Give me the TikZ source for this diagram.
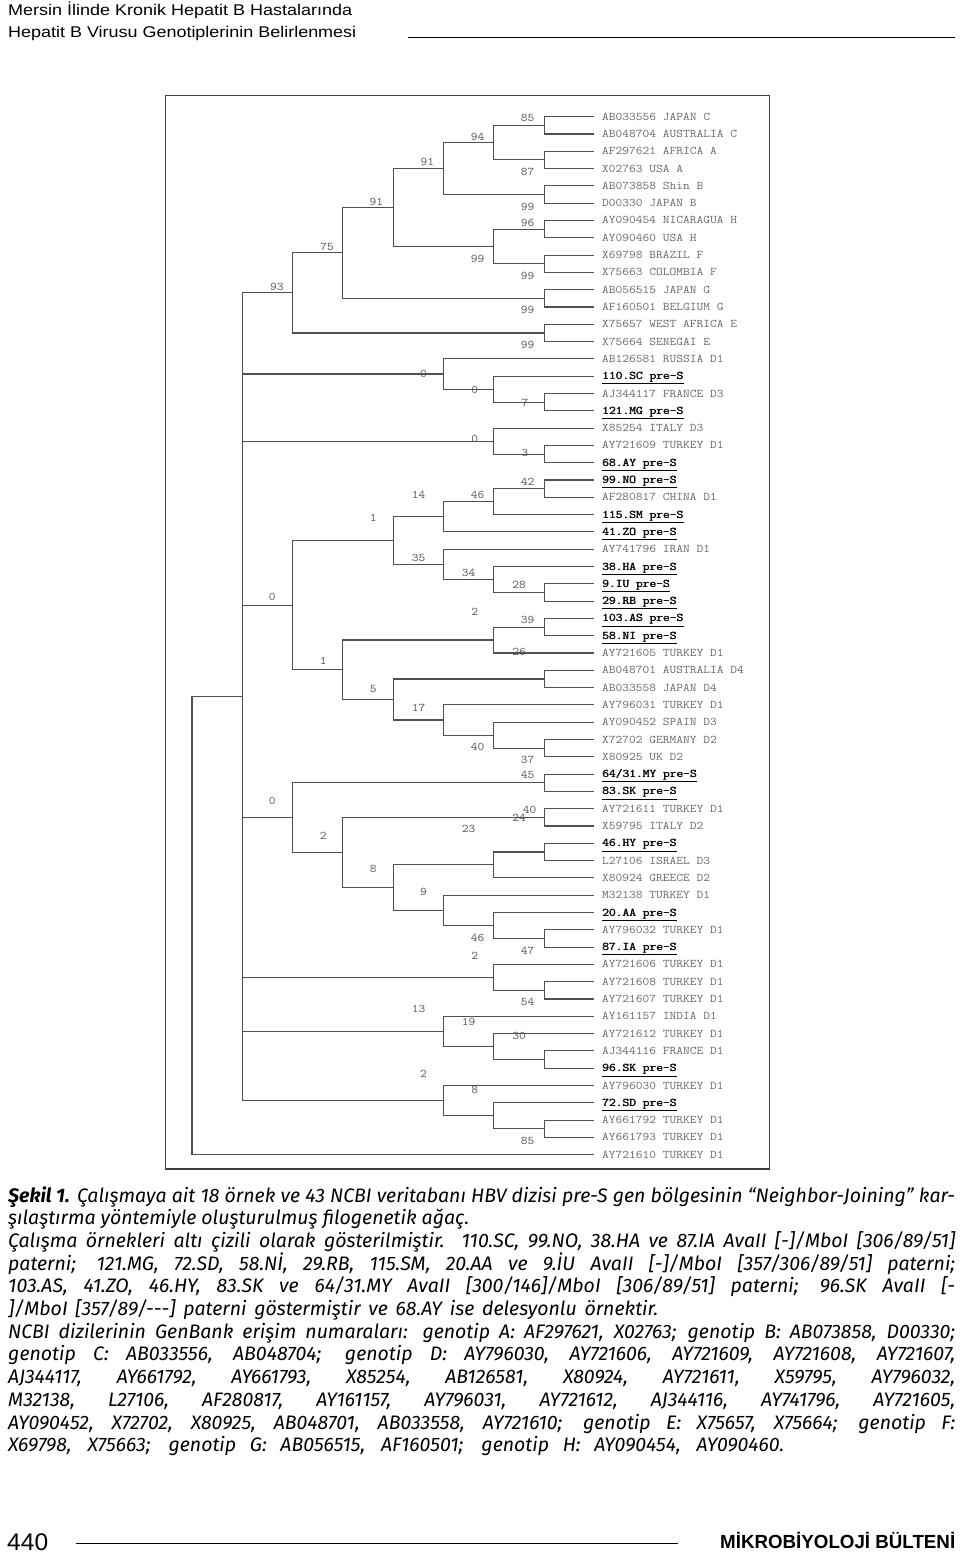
\documentclass[tikz,border=0pt]{standalone}
\usepackage{fontspec}
\usepackage{graphicx}
\setmainfont{Liberation Sans}
\newfontfamily\capfont{Fira Sans}
\definecolor{leafgray}{RGB}{105,105,105}
\definecolor{bsgray}{RGB}{85,85,85}
\definecolor{brgray}{RGB}{80,80,80}
\newcommand\mx[1]{\scalebox{1.12}[1]{#1}}
\newcommand\smp[1]{\textcolor{black}{\underline{\rlap{#1}\hspace{0.45pt}#1}}}
\newcommand\cl[2]{\makebox[#1][s]{#2}}
\newcommand\LvA{192}
\newcommand\LvB{242.3}
\newcommand\LvC{292.6}
\newcommand\LvD{342.9}
\newcommand\LvE{393.2}
\newcommand\LvF{443.5}
\newcommand\LvG{493.8}
\newcommand\LvH{544.1}
\newcommand\LvL{594.4}
\tikzset{
 br/.style={draw=brgray, line width=1.1pt},
 leaf/.style={anchor=west, inner sep=0pt, text height=7pt, text depth=0pt, text=leafgray, font=\fontsize{11.7}{12}\selectfont\ttfamily},
 bs/.style={inner sep=0pt, text height=7pt, text depth=0pt, text=bsgray, font=\fontsize{11.7}{12}\selectfont\ttfamily},
 capline/.style={anchor=base west, inner sep=0pt, font=\capfont\itshape\fontsize{19.5}{21}\selectfont},
 hd/.style={anchor=base west, inner sep=0pt},
 frame/.style={draw=black!75, line width=1.6pt},
 rule/.style={draw=black, line width=1pt},
}
\begin{document}
\begin{tikzpicture}[x=1pt,y=-1pt]
\useasboundingbox (0,0) rectangle (960,1562);
% header
\node[hd] (h1) at (8,15.5) {\resizebox{344pt}{\height}{\fontsize{15.5}{16}\selectfont Mersin İlinde Kronik Hepatit B Hastalarında}};
\node[hd] (h2) at (8,37.5) {\resizebox{348pt}{\height}{\fontsize{15.5}{16}\selectfont Hepatit B Virusu Genotiplerinin Belirlenmesi}};
\coordinate (r1a) at (408,38);
\coordinate (r1b) at (955,38);
\draw[rule] (r1a) -- (r1b);
% frame
\coordinate (fr1) at (165.5,95.5);
\coordinate (fr2) at (769.5,1169);
\draw[frame] (fr1) rectangle (fr2);
% tree
\begin{scope}[yshift=-116.7pt, y=-17.3pt]
\foreach \t [count=\i from 0] in {{AB033556 JAPAN C},{AB048704 AUSTRALIA C},{AF297621 AFRICA A},{X02763 USA A},{AB073858 Shin B},{D00330 JAPAN B},{AY090454 NICARAGUA H},{AY090460 USA H},{X69798 BRAZIL F},{X75663 COLOMBIA F},{AB056515 JAPAN G},{AF160501 BELGIUM G},{X75657 WEST AFRICA E},{X75664 SENEGAI E},{AB126581 RUSSIA D1},{\smp{110.SC pre-S}},{AJ344117 FRANCE D3},{\smp{121.MG pre-S}},{X85254 ITALY D3},{AY721609 TURKEY D1},{\smp{68.AY pre-S}},{\smp{99.NO pre-S}},{AF280817 CHINA D1},{\smp{115.SM pre-S}},{\smp{41.ZO pre-S}},{AY741796 IRAN D1},{\smp{38.HA pre-S}},{\smp{9.IU pre-S}},{\smp{29.RB pre-S}},{\smp{103.AS pre-S}},{\smp{58.NI pre-S}},{AY721605 TURKEY D1},{AB048701 AUSTRALIA D4},{AB033558 JAPAN D4},{AY796031 TURKEY D1},{AY090452 SPAIN D3},{X72702 GERMANY D2},{X80925 UK D2},{\smp{64/31.MY pre-S}},{\smp{83.SK pre-S}},{AY721611 TURKEY D1},{X59795 ITALY D2},{\smp{46.HY pre-S}},{L27106 ISRAEL D3},{X80924 GREECE D2},{M32138 TURKEY D1},{\smp{20.AA pre-S}},{AY796032 TURKEY D1},{\smp{87.IA pre-S}},{AY721606 TURKEY D1},{AY721608 TURKEY D1},{AY721607 TURKEY D1},{AY161157 INDIA D1},{AY721612 TURKEY D1},{AJ344116 FRANCE D1},{\smp{96.SK pre-S}},{AY796030 TURKEY D1},{\smp{72.SD pre-S}},{AY661792 TURKEY D1},{AY661793 TURKEY D1},{AY721610 TURKEY D1}}{
  \coordinate (l\i) at (\LvL,\i);
  \node[leaf] (t\i) at (602,\i) {\mx{\t}};
}
% internal nodes
\coordinate (a85) at (\LvH,0.5);
\coordinate (a87) at (\LvH,2.5);
\coordinate (a94) at (\LvG,1.5);
\coordinate (aB) at (\LvH,4.5);
\coordinate (a91a) at (\LvF,3);
\coordinate (aH) at (\LvH,6.5);
\coordinate (aF) at (\LvH,8.5);
\coordinate (aHF) at (\LvG,7.5);
\coordinate (a91b) at (\LvE,5.25);
\coordinate (aG) at (\LvH,10.5);
\coordinate (a75) at (\LvD,7.875);
\coordinate (aE) at (\LvH,12.5);
\coordinate (a93) at (\LvC,10.1875);
\coordinate (b7) at (\LvH,16.5);
\coordinate (b0i) at (\LvG,15.75);
\coordinate (b0) at (\LvF,14.875);
\coordinate (c3) at (\LvH,19.5);
\coordinate (c0) at (\LvG,18.75);
\coordinate (d42) at (\LvH,21.5);
\coordinate (d46) at (\LvG,22.25);
\coordinate (d14) at (\LvF,23.125);
\coordinate (d28) at (\LvH,27.5);
\coordinate (d34) at (\LvG,26.75);
\coordinate (d35) at (\LvF,25.875);
\coordinate (d1) at (\LvE,24.5);
\coordinate (d39) at (\LvH,29.5);
\coordinate (d2) at (\LvG,30.25);
\coordinate (dD4) at (\LvH,32.5);
\coordinate (d37) at (\LvH,36.5);
\coordinate (d40) at (\LvG,35.75);
\coordinate (d17) at (\LvF,34.875);
\coordinate (d5) at (\LvE,33.6875);
\coordinate (d1b) at (\LvD,31.96875);
\coordinate (d0) at (\LvC,28.234375);
\coordinate (e45) at (\LvH,38.5);
\coordinate (e40) at (\LvH,40.5);
\coordinate (eI) at (\LvH,42.5);
\coordinate (eJ) at (\LvG,43.25);
\coordinate (e47) at (\LvH,47.5);
\coordinate (e46) at (\LvG,46.75);
\coordinate (e9) at (\LvF,45.875);
\coordinate (e8) at (\LvE,44.5625);
\coordinate (e2) at (\LvD,42.53125);
\coordinate (e0) at (\LvC,40.515625);
\coordinate (f54) at (\LvH,50.5);
\coordinate (f2) at (\LvG,49.75);
\coordinate (g30) at (\LvH,54.5);
\coordinate (g19) at (\LvG,53.75);
\coordinate (g13) at (\LvF,52.875);
\coordinate (h85) at (\LvH,58.5);
\coordinate (hI) at (\LvG,57.75);
\coordinate (h2) at (\LvF,56.875);
\coordinate (nB) at (\LvB,33.53125);
\coordinate (rt) at (\LvA,46.765625);
\foreach \p/\c in {a85/l0,a85/l1,a87/l2,a87/l3,a94/a85,a94/a87,aB/l4,aB/l5,a91a/a94,a91a/aB,aH/l6,aH/l7,aF/l8,aF/l9,aHF/aH,aHF/aF,a91b/a91a,a91b/aHF,aG/l10,aG/l11,a75/a91b,a75/aG,aE/l12,aE/l13,a93/a75,a93/aE,
 b7/l16,b7/l17,b0i/l15,b0i/b7,b0/l14,b0/b0i,
 c3/l19,c3/l20,c0/l18,c0/c3,
 d42/l21,d42/l22,d46/d42,d46/l23,d14/d46,d14/l24,d28/l27,d28/l28,d34/l26,d34/d28,d35/l25,d35/d34,d1/d14,d1/d35,d39/l29,d39/l30,d2/d39,d2/l31,dD4/l32,dD4/l33,d37/l36,d37/l37,d40/l35,d40/d37,d17/l34,d17/d40,d5/dD4,d5/d17,d1b/d2,d1b/d5,d0/d1,d0/d1b,
 e45/l38,e45/l39,e40/l40,e40/l41,eI/l42,eI/l43,eJ/eI,eJ/l44,e47/l47,e47/l48,e46/l46,e46/e47,e9/l45,e9/e46,e8/eJ,e8/e9,e2/e40,e2/e8,e0/e45,e0/e2,
 f54/l50,f54/l51,f2/l49,f2/f54,
 g30/l54,g30/l55,g19/l53,g19/g30,g13/l52,g13/g19,
 h85/l58,h85/l59,hI/l57,hI/h85,h2/l56,h2/hI,
 nB/a93,nB/b0,nB/c0,nB/d0,nB/e0,nB/f2,nB/g13,nB/h2,
 rt/nB,rt/l60}{
  \draw[br] (\p) |- (\c);
}
\end{scope}
% bootstrap labels
\foreach \t/\x/\y [count=\k] in {85/527.7/118.3,94/477.5/136.7,91/427.3/161.7,87/527.7/172.3,91/376.4/201.7,99/527.7/207,96/527.7/222.7,75/327/246.7,99/477.5/259,99/527.7/276,93/276.9/286.7,99/527.7/310,99/527.7/345,0/423.5/374.3,0/474.8/390,7/525/402.7,0/474.8/439.3,3/525/453.3,42/527.7/482.3,14/418.5/495,46/477.5/495,1/373.3/518.3,35/418.5/558.3,34/468.6/572.7,28/519.2/585,0/272.3/597.3,2/474.8/612.3,39/527.7/620,26/519.2/651.7,1/323.2/660.7,5/373.3/689,17/418.5/707.7,40/477.5/747.3,37/527.7/760,45/527.7/775,0/272.3/801,40/529.6/810,24/519.2/817.7,23/468.6/829,2/323.2/835.7,8/373.3/869,9/423.5/891.7,46/477.5/937.7,47/527.7/950.7,2/474.8/955.7,54/527.7/1001.7,13/418.5/1009,19/468.6/1022.3,30/519.2/1035.7,2/423.5/1074.3,8/474.8/1090,85/527.7/1140.7}{
  \node[bs] (bs\k) at (\x,\y) {\mx{\t}};
}
% caption
\node[capline] (c1) at (8,1202) {\cl{947pt}{\textbf{Şekil 1.} Çalışmaya ait 18 örnek ve 43 NCBI veritabanı HBV dizisi pre-S gen bölgesinin “Neighbor-Joining” kar-}};
\node[capline] (c2) at (8,1224.7) {şılaştırma yöntemiyle oluşturulmuş filogenetik ağaç.};
\node[capline] (c3) at (8,1247.4) {\cl{947pt}{Çalışma örnekleri altı çizili olarak gösterilmiştir. 110.SC, 99.NO, 38.HA ve 87.IA AvaII [-]/MboI [306/89/51]}};
\node[capline] (c4) at (8,1270.1) {\cl{947pt}{paterni; 121.MG, 72.SD, 58.Nİ, 29.RB, 115.SM, 20.AA ve 9.İU AvaII [-]/MboI [357/306/89/51] paterni;}};
\node[capline] (c5) at (8,1292.8) {\cl{947pt}{103.AS, 41.ZO, 46.HY, 83.SK ve 64/31.MY AvaII [300/146]/MboI [306/89/51] paterni; 96.SK AvaII [-}};
\node[capline] (c6) at (8,1315.5) {\cl{650pt}{]/MboI [357/89/-{}-{}-] paterni göstermiştir ve 68.AY ise delesyonlu örnektir.}};
\node[capline] (c7) at (8,1338.2) {\cl{947pt}{NCBI dizilerinin GenBank erişim numaraları: genotip A: AF297621, X02763; genotip B: AB073858, D00330;}};
\node[capline] (c8) at (8,1360.9) {\cl{947pt}{genotip C: AB033556, AB048704; genotip D: AY796030, AY721606, AY721609, AY721608, AY721607,}};
\node[capline] (c9) at (8,1383.6) {\cl{947pt}{AJ344117, AY661792, AY661793, X85254, AB126581, X80924, AY721611, X59795, AY796032,}};
\node[capline] (c10) at (8,1406.3) {\cl{947pt}{M32138, L27106, AF280817, AY161157, AY796031, AY721612, AJ344116, AY741796, AY721605,}};
\node[capline] (c11) at (8,1429) {\cl{947pt}{AY090452, X72702, X80925, AB048701, AB033558, AY721610; genotip E: X75657, X75664; genotip F:}};
\node[capline] (c12) at (8,1451.7) {\cl{776pt}{X69798, X75663; genotip G: AB056515, AF160501; genotip H: AY090454, AY090460.}};
% footer
\node[hd] (p440) at (7,1550) {\resizebox{41pt}{\height}{\fontsize{24}{24}\selectfont 440}};
\coordinate (r2a) at (76,1543);
\coordinate (r2b) at (678,1543);
\draw[rule] (r2a) -- (r2b);
\node[hd] (jn) at (720,1548) {\resizebox{235pt}{\height}{\fontsize{19}{19}\selectfont\bfseries MİKROBİYOLOJİ BÜLTENİ}};
\end{tikzpicture}
\end{document}
